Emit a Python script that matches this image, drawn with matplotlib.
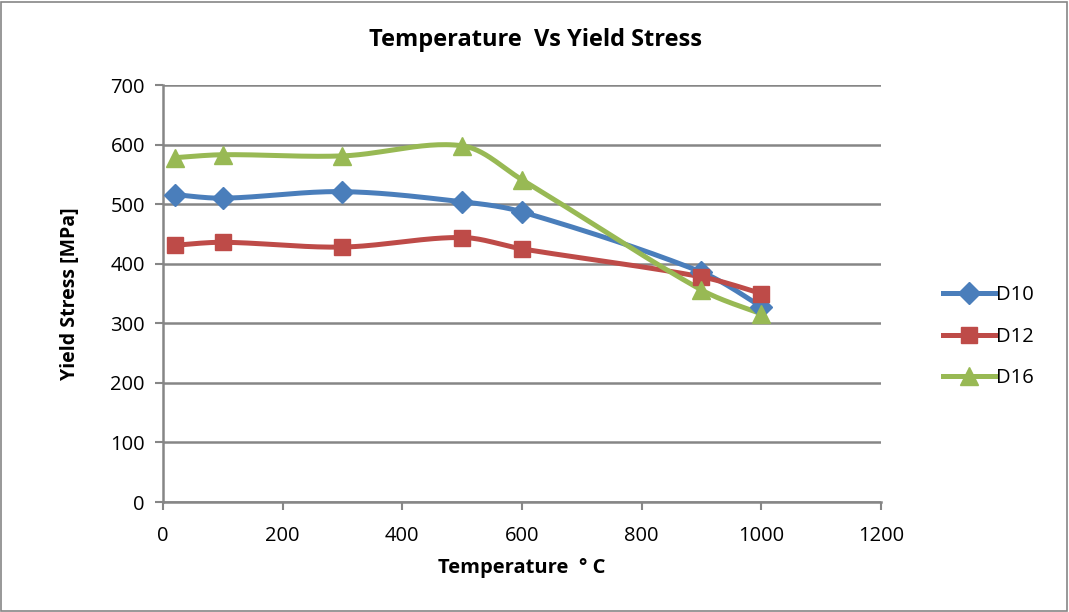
import numpy as np
import matplotlib.pyplot as plt
from matplotlib.patches import Rectangle

temperature = [20, 100, 300, 500, 600, 900, 1000]
d10 = [516, 510, 521, 504, 487, 386, 328]
d12 = [431, 436, 428, 444, 425, 378, 350]
d16 = [578, 583, 581, 598, 541, 356, 316]

series = [
    ("D10", d10, "#4A7EBB", "D", 11),
    ("D12", d12, "#BE4B48", "s", 12),
    ("D16", d16, "#98B954", "^", 13),
]


def smooth(x, y, n=30):
    """Bezier smoothing through every point; tangent length split by neighbour distance"""
    p = np.column_stack([x, y]).astype(float)
    m = len(p)
    tang = np.zeros_like(p)
    for i in range(m):
        a = p[max(i - 1, 0)]
        b = p[min(i + 1, m - 1)]
        tang[i] = (b - a) / 6
    seglen = np.linalg.norm(np.diff(p, axis=0), axis=1)
    pts = []
    for i in range(m - 1):
        p1, p2 = p[i], p[i + 1]
        # scale each handle by how this segment compares with its neighbour
        if 0 < i:
            k1 = 2 * seglen[i] / (seglen[i] + seglen[i - 1])
        else:
            k1 = 1.0
        if i + 1 < m - 1:
            k2 = 2 * seglen[i] / (seglen[i] + seglen[i + 1])
        else:
            k2 = 1.0
        c1 = p1 + tang[i] * k1
        c2 = p2 - tang[i + 1] * k2
        t = np.linspace(0, 1, n)[:, None]
        seg = ((1 - t) ** 3 * p1 + 3 * (1 - t) ** 2 * t * c1
               + 3 * (1 - t) * t ** 2 * c2 + t ** 3 * p2)
        pts.append(seg if i == 0 else seg[1:])
    pts = np.vstack(pts)
    return pts[:, 0], pts[:, 1]


plt.rcParams['font.family'] = ['Open Sans', 'DejaVu Sans']

fig = plt.figure(figsize=(10.69, 6.12), dpi=100)
ax = fig.add_axes([0.1525, 0.1797, 0.6715, 0.6814])

grid_col = "#868686"
for name, vals, col, mk, ms in series:
    sx, sy = smooth(temperature, vals)
    ax.plot(sx, sy, color=col, lw=3.6, solid_capstyle='round', zorder=3)
    ax.plot(temperature, vals, linestyle='none', marker=mk, color=col,
            markersize=ms, zorder=4)
    ax.plot([], [], color=col, lw=3.6, marker=mk, markersize=ms, label=name)

ax.set_xlim(0, 1200)
ax.set_ylim(0, 700)
ax.set_xticks(range(0, 1201, 200))
ax.set_yticks(range(0, 701, 100))
ax.yaxis.grid(True, color=grid_col, lw=1.8)
ax.set_axisbelow(True)
for s in ['top', 'right']:
    ax.spines[s].set_visible(False)
for s in ['left', 'bottom']:
    ax.spines[s].set_color(grid_col)
    ax.spines[s].set_linewidth(1.8)
ax.tick_params(colors=grid_col, width=1.5, length=6, labelsize=14.5,
               labelcolor='black')
ax.tick_params(axis='x', pad=11)
ax.tick_params(axis='y', pad=7)

fig.text(0.501, 0.935, "Temperature  Vs Yield Stress", fontsize=17,
         fontweight='bold', ha='center', va='center')
ax.set_xlabel("Temperature  ° C", fontsize=14.5, fontweight='bold',
              labelpad=9)
ax.set_ylabel("Yield Stress [MPa]", fontsize=14, fontweight='bold',
              labelpad=22)

fig.legend(loc='center left', bbox_to_anchor=(0.865, 0.45), frameon=False,
           fontsize=14.5, handlelength=2.6, handletextpad=0.05,
           labelspacing=1.05)

fig.patches.append(Rectangle((0.001, 0.002), 0.997, 0.995,
                             transform=fig.transFigure, fill=False,
                             edgecolor=grid_col, lw=1.2))

fig.savefig("out.png", dpi=100)
